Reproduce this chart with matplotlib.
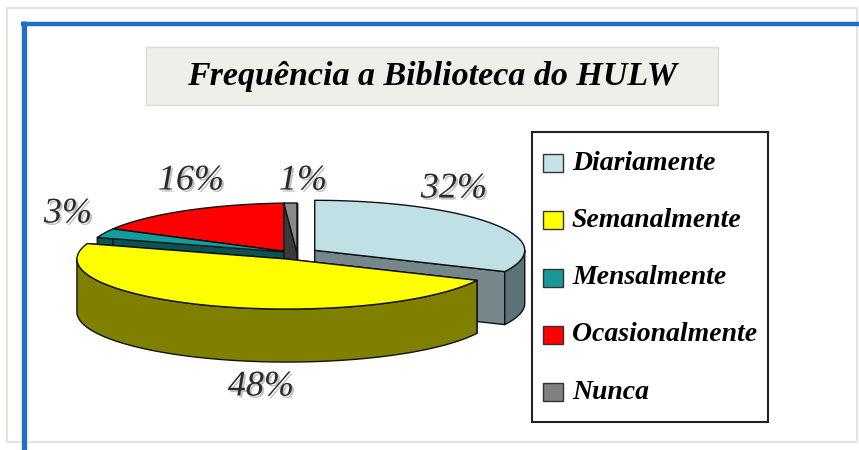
import numpy as np
import matplotlib.pyplot as plt
from matplotlib.patches import Polygon, Rectangle
import matplotlib.patheffects as pe

# dados
categorias = ['Diariamente', 'Semanalmente', 'Mensalmente', 'Ocasionalmente', 'Nunca']
percentuais = [32, 48, 3, 16, 1]

# estilo das fatias
cores_topo = ['#bfe1e6', '#ffff00', '#139c9c', '#ff0000', '#8a8a8a']
cores_lado = ['#5b7277', '#808000', '#0a5a5a', '#8a0000', '#4a4a4a']
cores_corte = ['#76878b', '#707000', '#0b5252', '#7a0000', '#3a3a3a']
cores_legenda = ['#c4e3e8', '#ffff00', '#1a9898', '#ff0000', '#808080']
explodir = [0.1, 0.13, 0, 0, 0]
ordem_desenho = [3, 2, 4, 0, 1]   # de tras para frente
pos_rotulos = [(454, 189), (261, 387), (68, 214), (191, 181), (303, 181)]

# geometria da pizza 3D (pixels)
cx, cy, a, b, h = 297, 253, 210, 50, 53
fonte = ['Liberation Serif', 'DejaVu Serif']

fig = plt.figure(figsize=(8.59, 4.5), dpi=100)
ax = fig.add_axes([0, 0, 1, 1])
ax.set_xlim(0, 859)
ax.set_ylim(450, 0)
ax.axis('off')


def borda(t, dx, dy, z=0.0):
    t = np.radians(np.atleast_1d(t))
    return np.column_stack([cx + dx + a * np.cos(t), cy + dy - b * np.sin(t) + z])


# angulos das fatias (sentido horario a partir das 12h)
inicio = 90.0
angulos = []
for v in percentuais:
    fim = inicio - 3.6 * v
    angulos.append((inicio, fim))
    inicio = fim

kw = dict(edgecolor='#111111', linewidth=1.0, joinstyle='round')
for i in ordem_desenho:
    ts, te = angulos[i]
    meio = np.radians((ts + te) / 2)
    dx = explodir[i] * a * np.cos(meio)
    dy = -explodir[i] * b * np.sin(meio)
    c = np.array([cx + dx, cy + dy])

    # paredes radiais
    for t in (ts, te):
        p = borda(t, dx, dy)[0]
        ax.add_patch(Polygon([c, p, p + [0, h], c + [0, h]], closed=True,
                             facecolor=cores_corte[i], **kw))

    # parede externa (metade da frente)
    for k in (-1, 0, 1):
        lo = max(te, -180 + 360 * k)
        hi = min(ts, 360 * k)
        if hi > lo:
            tt = np.linspace(lo, hi, 80)
            cima = borda(tt, dx, dy)
            baixo = borda(tt[::-1], dx, dy, h)
            ax.add_patch(Polygon(np.vstack([cima, baixo]), closed=True,
                                 facecolor=cores_lado[i], **kw))

    # topo
    tt = np.linspace(te, ts, 120)
    ax.add_patch(Polygon(np.vstack([c, borda(tt, dx, dy)]), closed=True,
                         facecolor=cores_topo[i], **kw))

# rotulos de porcentagem
sombra = [pe.withSimplePatchShadow(offset=(1.5, -1.5), shadow_rgbFace='#9a9a9a', alpha=0.6)]
for v, (x, y) in zip(percentuais, pos_rotulos):
    ax.text(x, y, f'{v}%', ha='center', va='center', fontsize=26, style='italic',
            color='#2b2b2b', family=fonte, path_effects=sombra)

# titulo
ax.add_patch(Rectangle((146, 47), 572, 58, facecolor='#efeee8', edgecolor='#dcdbd4', linewidth=1))
ax.text(432, 76, 'Frequência a Biblioteca do HULW', ha='center', va='center',
        fontsize=24.5, weight='bold', style='italic', family=fonte, color='black')

# legenda
ax.add_patch(Rectangle((532, 132), 236, 290, facecolor='white', edgecolor='#222222', linewidth=1.5))
for k, (nome, cor) in enumerate(zip(categorias, cores_legenda)):
    y = 163 + 57.3 * k
    ax.add_patch(Rectangle((543, y - 9), 20, 18, facecolor=cor, edgecolor='#333333', linewidth=1))
    ax.text(572, y, nome, ha='left', va='center', fontsize=20, weight='bold',
            style='italic', family=fonte, color='black')

# moldura
ax.add_patch(Rectangle((7, 8), 850, 434, fill=False, edgecolor='#e4e4dc', linewidth=1.5))
ax.plot([21, 859], [23.5, 23.5], color='#1f6fc4', linewidth=3.2, solid_capstyle='butt')
ax.plot([23.5, 23.5], [21, 450], color='#1f6fc4', linewidth=3.8, solid_capstyle='butt')

fig.savefig('out.png', dpi=100, facecolor='white')
